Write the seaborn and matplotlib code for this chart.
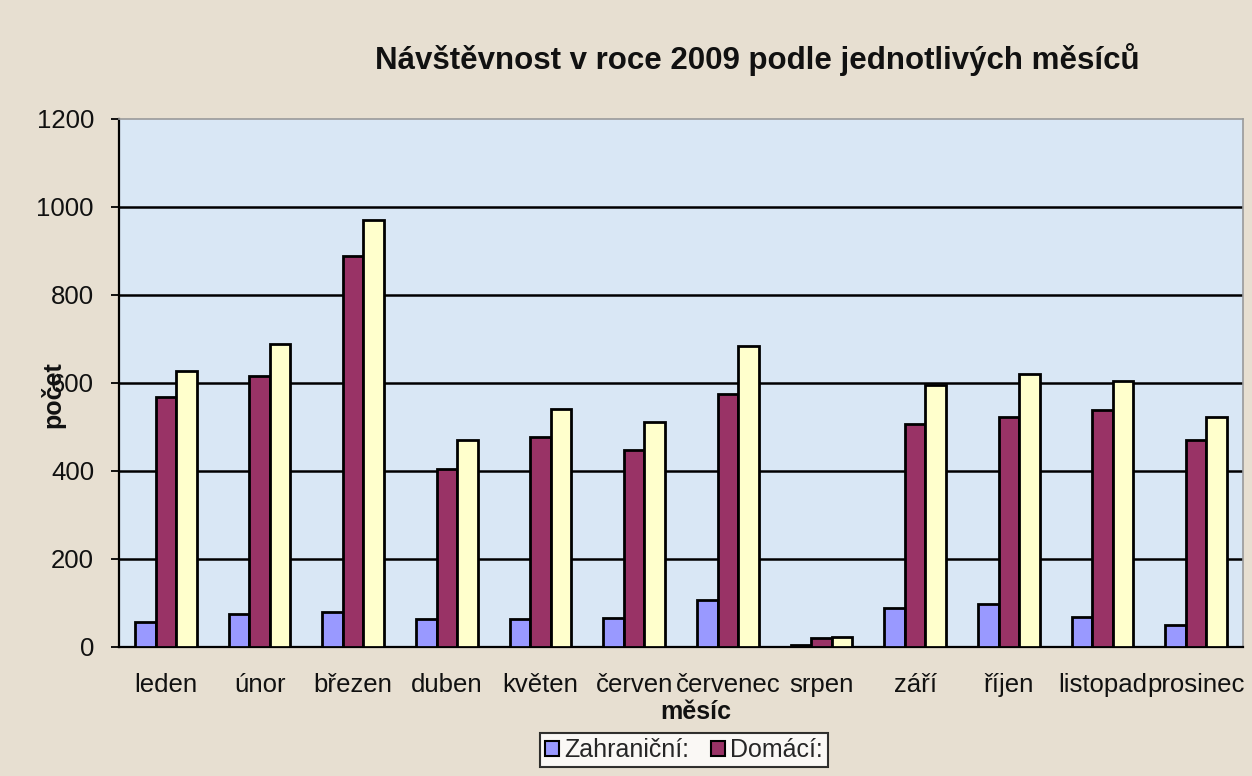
import matplotlib
matplotlib.use("Agg")
import matplotlib.pyplot as plt
import seaborn as sns
import pandas as pd
import numpy as np
from matplotlib.patches import Patch

months = ["leden", "únor", "březen", "duben", "květen", "červen",
          "červenec", "srpen", "září", "říjen", "listopad", "prosinec"]
zahranicni = [57, 74, 80, 64, 63, 67, 107, 5, 89, 97, 69, 50]
domaci = [569, 616, 889, 405, 478, 448, 575, 20, 506, 522, 538, 470]
celkem = [627, 689, 971, 470, 540, 511, 684, 23, 595, 620, 605, 522]
series_names = ["Zahraniční:", "Domácí:", "Celkem"]
legend_names = ["Zahraniční:", "Domácí:"]
colors = ["#9999ff", "#993366", "#ffffcc"]
yticks = [0, 200, 400, 600, 800, 1000, 1200]

df = pd.DataFrame({
    "měsíc": months * 3,
    "počet": zahranicni + domaci + celkem,
    "série": [series_names[0]] * 12 + [series_names[1]] * 12 + [series_names[2]] * 12,
})

sns.set_theme(style="white")
plt.rcParams['font.family'] = ['Liberation Sans', 'DejaVu Sans']

fig = plt.figure(figsize=(12.52, 7.76), dpi=100)
fig.patch.set_facecolor("#e7dfd1")
ax = fig.add_axes([119/1252, 1 - 647/776, (1243-119)/1252, (647-119)/776])
ax.set_facecolor("#d9e7f5")

sns.barplot(data=df, x="měsíc", y="počet", hue="série", order=months,
            hue_order=series_names, palette=colors, saturation=1, width=0.66, gap=0,
            edgecolor="black", linewidth=2.0, ax=ax, legend=False, zorder=3)

ax.set_ylim(0, 1200)
ax.set_xlim(-0.5, 11.5)
ax.set_yticks(yticks)
ax.set_yticklabels([str(v) for v in yticks], fontsize=18.5, color="#111111")
for v in yticks[1:-1]:
    ax.axhline(v, color="black", linewidth=1.8, zorder=1)

ax.set_xticks(range(12))
ax.set_xticklabels(months, fontsize=18.5, color="#111111")
ax.set_xticks(np.arange(0.5, 11.5, 1.0), minor=True)
ax.tick_params(axis="x", which="major", length=0, pad=19)
ax.tick_params(axis="x", which="minor", length=6, width=1.3, color="black", direction="out")
ax.tick_params(axis="y", which="major", length=6, width=1.3, color="black", direction="out",
               left=True, pad=12)

for s in ["left", "bottom"]:
    ax.spines[s].set_color("black")
    ax.spines[s].set_linewidth(1.6)
for s in ["top", "right"]:
    ax.spines[s].set_color("#9a9a9a")
    ax.spines[s].set_linewidth(1.2)

ax.set_xlabel("")
ax.set_ylabel("")
fig.text(53/1252, 1 - 395/776, "počet", rotation=90, fontsize=18, fontweight="bold",
         ha="center", va="center", color="#111111")
fig.text(696/1252, 1 - 712/776, "měsíc", fontsize=18, fontweight="bold",
         ha="center", va="center", color="#111111")
fig.text(757/1252, 1 - 60/776, "Návštěvnost v roce 2009 podle jednotlivých měsíců",
         fontsize=22.5, fontweight="bold", ha="center", va="center", color="#111111")

handles = [Patch(facecolor=colors[i], edgecolor="black", linewidth=1.5, label=legend_names[i])
           for i in range(2)]
leg = fig.legend(handles=handles, loc="center", bbox_to_anchor=(684/1252, 1 - 750/776),
                 ncol=2, fontsize=18, frameon=True, fancybox=False,
                 handlelength=0.55, handleheight=0.55, handletextpad=0.2,
                 columnspacing=0.9, borderpad=0.2)
leg.get_frame().set_edgecolor("black")
leg.get_frame().set_linewidth(1.5)
leg.get_frame().set_facecolor("white")

fig.savefig("out.png", dpi=100, facecolor=fig.get_facecolor())
